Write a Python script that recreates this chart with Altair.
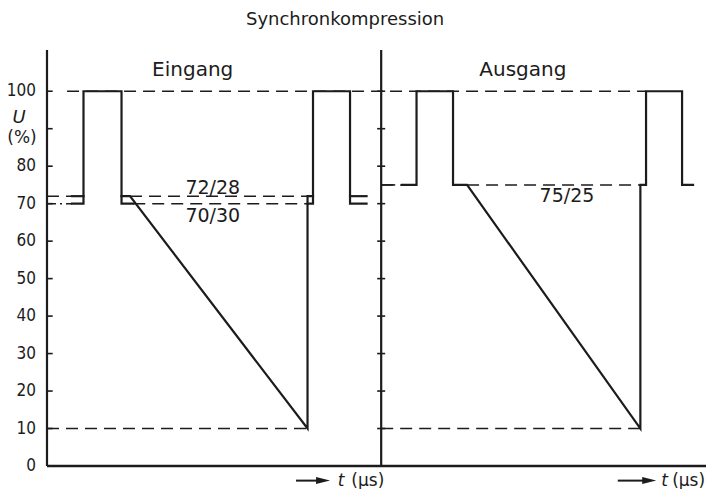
import altair as alt
import pandas as pd

# ---------------- data ----------------
# time axis in arbitrary units: 0 = left axis, 50 = middle axis (panel split)
Y_TICK_LABELS = [0, 10, 20, 30, 40, 50, 60, 70, 80, 100]
Y_TICK_MARKS = [10, 20, 30, 40, 50, 60, 70, 80, 90, 100]
T_END = 98.6
U_TOP = 111

# Eingang (input) waveform, two superimposed variants (72/28 and 70/30)
eingang_polylines = {
    "E1": [(3.74, 70), (5.46, 70), (5.46, 100), (11.15, 100), (11.15, 70), (12.9, 70)],
    "E2": [(3.74, 72), (5.46, 72)],
    "E3": [(11.15, 72), (12.42, 72), (38.98, 10), (38.98, 72), (39.80, 72),
           (39.80, 100), (45.34, 100), (45.34, 70), (47.81, 70)],
    "E4": [(38.98, 70), (39.80, 70), (39.80, 72)],
    "E5": [(45.34, 72), (47.81, 72)],
}
# Ausgang (output) waveform, 75/25
ausgang_polylines = {
    "A1": [(53.12, 75), (55.29, 75), (55.29, 100), (60.75, 100), (60.75, 75),
           (62.85, 75), (88.78, 10), (88.78, 75), (89.63, 75), (89.63, 100),
           (95.02, 100), (95.02, 75), (96.66, 75)],
}

# dashed reference levels: (level, t_start, t_end)
dashed_levels = [
    (100, 3.0, 89.63),
    (72, 0.0, 3.74),
    (72, 12.42, 39.3),
    (70, 12.9, 38.98),
    (75, 50.0, 53.12),
    (75, 62.85, 88.78),
    (10, 0.0, 38.98),
    (10, 50.0, 88.78),
]
dashdot_levels = [(70, 0.0, 3.74)]

BOTTOM_U = -3.9
# texts: (label, t, u, size)
texts = [
    ("Synchronkompression", 44.6, 119.0, 18),
    ("Eingang", 21.8, 105.6, 20),
    ("Ausgang", 71.2, 105.6, 20),
    ("72/28", 24.8, 74.3, 19),
    ("70/30", 24.8, 66.7, 19),
    ("75/25", 77.8, 72.1, 19),
    ("(%)", -3.74, 87.5, 17),
    ("(µs)", 48.0, BOTTOM_U, 17),
    ("(µs)", 96.0, BOTTOM_U, 17),
]
italic_texts = [
    ("U", -4.19, 92.9, 18),
    ("t", 44.0, BOTTOM_U, 17),
    ("t", 92.4, BOTTOM_U, 17),
]
arrows = [  # shaft start, shaft end, head centre
    (37.26, 40.85, 41.30),
    (85.4, 89.6, 90.1),
]
LABEL_T = -1.65

# ---------------- build tables ----------------
rows = []
for name, pts in {**eingang_polylines, **ausgang_polylines}.items():
    for i, (t, u) in enumerate(pts):
        rows.append({"seg": name, "o": i, "t": t, "u": u})
wave = pd.DataFrame(rows)

dash_df = pd.DataFrame([{"u": l, "t": a, "t2": b} for l, a, b in dashed_levels])
dashdot_df = pd.DataFrame([{"u": l, "t": a, "t2": b} for l, a, b in dashdot_levels])
txt_df = pd.DataFrame([{"label": s, "t": t, "u": u, "fs": f} for s, t, u, f in texts])
itxt_df = pd.DataFrame([{"label": s, "t": t, "u": u, "fs": f} for s, t, u, f in italic_texts])
ylab_df = pd.DataFrame([{"label": str(v), "t": LABEL_T, "u": v} for v in Y_TICK_LABELS])
left_ticks = pd.DataFrame([{"u": v, "t": 0.0, "t2": 0.85} for v in Y_TICK_MARKS])
mid_ticks = pd.DataFrame([{"u": v, "t": 49.4, "t2": 50.6} for v in Y_TICK_MARKS])
mid_stub = pd.DataFrame([{"u": 75, "t": 50.0, "t2": 52.1}])
v_axes = pd.DataFrame([{"t": 0.0, "u": 0.0, "u2": U_TOP}, {"t": 50.0, "u": 0.0, "u2": U_TOP}])
h_axis = pd.DataFrame([{"t": 0.0, "t2": T_END, "u": 0.0}])
shaft_df = pd.DataFrame([{"t": a, "t2": b, "u": BOTTOM_U} for a, b, h in arrows])
head_df = pd.DataFrame([{"t": h, "u": BOTTOM_U} for a, b, h in arrows])

INK = "#1c1c1c"
xs = alt.Scale(domain=[0, T_END], nice=False, zero=False)
ys = alt.Scale(domain=[0, U_TOP], nice=False, zero=False)
XN = alt.X("t:Q", scale=xs, axis=None)
YN = alt.Y("u:Q", scale=ys, axis=None)

wave_l = alt.Chart(wave).mark_line(color=INK, strokeWidth=2.2, strokeJoin="miter", strokeCap="square").encode(
    x=XN, y=YN, detail="seg:N", order="o:Q")

dashed = alt.Chart(dash_df).mark_rule(color=INK, strokeWidth=1.5, strokeDash=[12, 7]).encode(
    x=XN, x2="t2:Q", y=YN)
dashdot = alt.Chart(dashdot_df).mark_rule(color=INK, strokeWidth=1.5, strokeDash=[9, 4, 2, 4]).encode(
    x=XN, x2="t2:Q", y=YN)
lt = alt.Chart(left_ticks).mark_rule(color=INK, strokeWidth=1.6).encode(x=XN, x2="t2:Q", y=YN)
mt = alt.Chart(mid_ticks).mark_rule(color=INK, strokeWidth=1.6).encode(x=XN, x2="t2:Q", y=YN)
ms = alt.Chart(mid_stub).mark_rule(color=INK, strokeWidth=1.6).encode(x=XN, x2="t2:Q", y=YN)
va = alt.Chart(v_axes).mark_rule(color=INK, strokeWidth=2.2).encode(x=XN, y=YN, y2="u2:Q")
ha = alt.Chart(h_axis).mark_rule(color=INK, strokeWidth=2.4).encode(x=XN, x2="t2:Q", y=YN)

ylab = alt.Chart(ylab_df).mark_text(color=INK, font="Liberation Sans Narrow, DejaVu Sans Condensed, sans-serif",
                                    fontSize=17, align="right", baseline="middle").encode(
    x=XN, y=YN, text="label:N")
txt = alt.Chart(txt_df).mark_text(color=INK, font="DejaVu Sans", baseline="middle", align="center").encode(
    x=XN, y=YN, text="label:N", size=alt.Size("fs:Q", scale=None, legend=None))
itxt = alt.Chart(itxt_df).mark_text(color=INK, font="DejaVu Sans", fontStyle="italic",
                                     baseline="middle", align="center").encode(
    x=XN, y=YN, text="label:N", size=alt.Size("fs:Q", scale=None, legend=None))

shaft = alt.Chart(shaft_df).mark_rule(color=INK, strokeWidth=2).encode(x=XN, x2="t2:Q", y=YN)
head = alt.Chart(head_df).mark_point(filled=True, color=INK, opacity=1, strokeWidth=0,
                                     shape="M-1,-0.5L1,0L-1,0.5Z", size=196).encode(x=XN, y=YN)

chart = alt.layer(wave_l, dashed, dashdot, lt, mt, ms, va, ha, ylab, txt, itxt, shaft, head).properties(
    width=659, height=416,
    autosize=alt.AutoSizeParams(type="none"),
    padding={"left": 39, "top": 42, "right": 1, "bottom": 23},
    background="white",
).configure_view(stroke=None)

chart.save("out.html", embed_options={"renderer": "svg", "actions": False})
